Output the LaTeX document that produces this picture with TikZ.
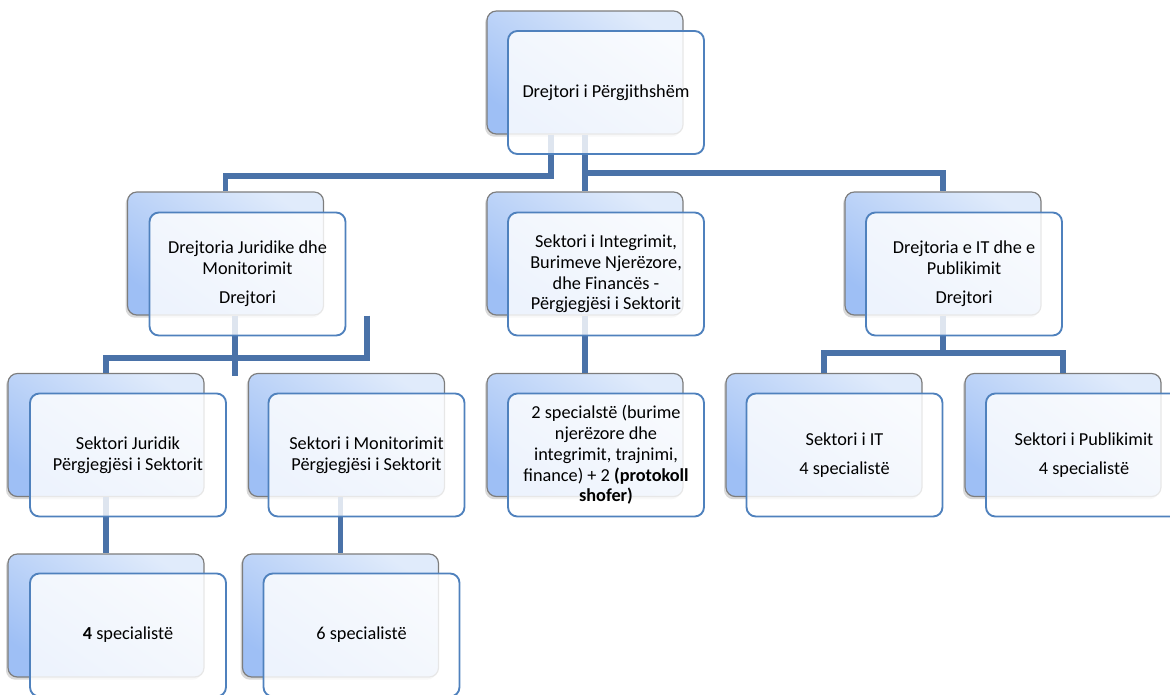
\documentclass[tikz,border=0pt]{standalone}
\usepackage{fontspec}
\setmainfont{Carlito}
\usetikzlibrary{shadows}
\definecolor{linkblue}{RGB}{74,114,168}
\definecolor{frontblue}{RGB}{79,129,189}
\definecolor{backgray}{RGB}{125,125,125}
\definecolor{backtop}{RGB}{224,235,251}
\definecolor{backbot}{RGB}{158,191,245}

\begin{document}
\begin{tikzpicture}[x=0.75pt,y=-0.75pt,
  link/.style={draw=linkblue,line width=4pt},
  backbox/.style={rectangle,rounded corners=7pt,draw=backgray,line width=0.9pt,
    top color=backtop,bottom color=backbot,shading angle=-35,
    minimum width=147pt,minimum height=92.25pt,inner sep=0pt,
    drop shadow={opacity=0.3,shadow xshift=-1.5pt,shadow yshift=-2pt}},
  frontbox/.style={rectangle,rounded corners=7pt,draw=frontblue,line width=1.4pt,
    fill=white,fill opacity=0.82,text opacity=1,text=black,align=center,
    minimum width=147pt,minimum height=92.25pt,inner sep=2pt,
    font=\fontsize{13.7}{15.6}\selectfont}]
\useasboundingbox (0,0) rectangle (1170,694);
\clip (0,0) rectangle (1170,694);

% back boxes
\node[backbox] (gjb) at (585,72.5) {};
\node[backbox] (jmb) at (225.5,253.5) {};
\node[backbox] (isb) at (585,253.5) {};
\node[backbox] (itb) at (943,253.5) {};
\node[backbox] (sjb) at (106,435) {};
\node[backbox] (smb) at (346.5,435) {};
\node[backbox] (spb) at (585,435) {};
\node[backbox] (sitb) at (824,435) {};
\node[backbox] (spub) at (1063,435) {};
\node[backbox] (s4b) at (106,615.5) {};
\node[backbox] (s6b) at (340.5,615.5) {};

% connectors
\coordinate (j1) at (551,176);
\coordinate (j2) at (585,173);
\coordinate (j3) at (235,376);
\coordinate (j4) at (367,358);
\coordinate (j5) at (943,353);
\draw[link] (j1 |- gjb.south) -- (j1) -| (jmb.north);
\draw[link] (gjb.south) -- (isb.north);
\draw[link] (j2) -| (itb.north);
\draw[link] (j3 |- jmb.south) -- (j3);
\draw[link] (j4 |- jmb.south) -- (j4) -| (sjb.north);
\draw[link] (sjb.south) -- (s4b.north);
\draw[link] (s6b.north |- smb.south) -- (s6b.north);
\draw[link] (isb.south) -- (spb.north);
\draw[link] (itb.south) -- (j5);
\draw[link] (sitb.north) |- (j5) -| (spub.north);

% front boxes
\node[frontbox] (gj) at (606,92.5) {Drejtori i Përgjithshëm};
\node[frontbox] (jm) at (247.5,274) {Drejtoria Juridike dhe\\Monitorimit\\[6pt]Drejtori};
\node[frontbox] (is) at (606,274) {Sektori i Integrimit,\\Burimeve Njerëzore,\\dhe Financës -\\Përgjegjësi i Sektorit};
\node[frontbox] (it) at (964,274) {Drejtoria e IT dhe e\\Publikimit\\[6pt]Drejtori};
\node[frontbox] (sj) at (128,455) {Sektori Juridik\\Përgjegjësi i Sektorit};
\node[frontbox] (sm) at (366.5,455) {Sektori i Monitorimit\\Përgjegjësi i Sektorit};
\node[frontbox] (sp) at (606,455) {2 specialstë (burime\\njerëzore dhe\\integrimit, trajnimi,\\finance) + 2 \textbf{(protokoll}\\\textbf{shofer)}};
\node[frontbox] (sit) at (844.5,455) {Sektori i IT\\[6pt]4 specialistë};
\node[frontbox] (spu) at (1084,455) {Sektori i Publikimit\\[6pt]4 specialistë};
\node[frontbox] (s4) at (128,635) {\textbf{4} specialistë};
\node[frontbox] (s6) at (361.5,635) {6 specialistë};
\end{tikzpicture}
\end{document}
